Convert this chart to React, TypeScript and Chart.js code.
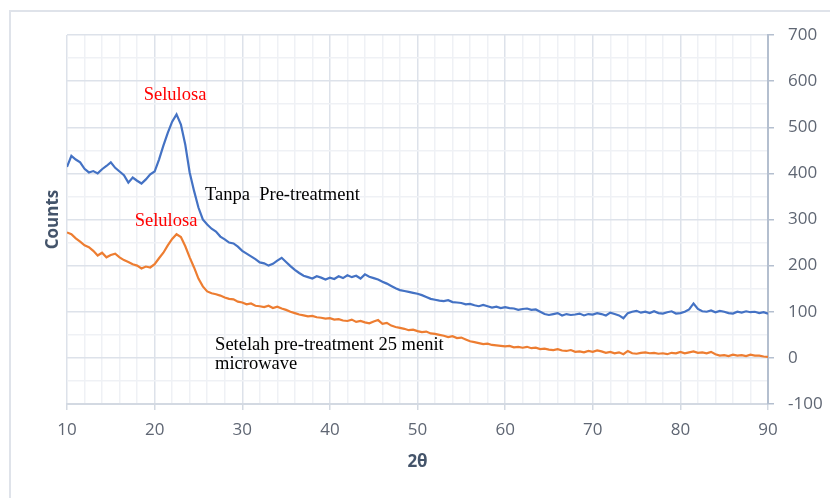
import { useEffect, useRef } from 'react';
import { Chart, registerables } from 'chart.js';

Chart.register(...registerables);

// 2θ positions (degrees)
const theta = [
  10, 10.5, 11, 11.5, 12, 12.5, 13, 13.5, 14, 14.5,
  15, 15.5, 16, 16.5, 17, 17.5, 18, 18.5, 19, 19.5,
  20, 20.5, 21, 21.5, 22, 22.5, 23, 23.5, 24, 24.5,
  25, 25.5, 26, 26.5, 27, 27.5, 28, 28.5, 29, 29.5,
  30, 30.5, 31, 31.5, 32, 32.5, 33, 33.5, 34, 34.5,
  35, 35.5, 36, 36.5, 37, 37.5, 38, 38.5, 39, 39.5,
  40, 40.5, 41, 41.5, 42, 42.5, 43, 43.5, 44, 44.5,
  45, 45.5, 46, 46.5, 47, 47.5, 48, 48.5, 49, 49.5,
  50, 50.5, 51, 51.5, 52, 52.5, 53, 53.5, 54, 54.5,
  55, 55.5, 56, 56.5, 57, 57.5, 58, 58.5, 59, 59.5,
  60, 60.5, 61, 61.5, 62, 62.5, 63, 63.5, 64, 64.5,
  65, 65.5, 66, 66.5, 67, 67.5, 68, 68.5, 69, 69.5,
  70, 70.5, 71, 71.5, 72, 72.5, 73, 73.5, 74, 74.5,
  75, 75.5, 76, 76.5, 77, 77.5, 78, 78.5, 79, 79.5,
  80, 80.5, 81, 81.5, 82, 82.5, 83, 83.5, 84, 84.5,
  85, 85.5, 86, 86.5, 87, 87.5, 88, 88.5, 89, 89.5,
  90,
];

// Counts: Tanpa Pre-treatment
const tanpa = [
  414, 438, 430, 424, 410, 402, 405, 400, 409, 416,
  424, 412, 404, 396, 380, 391, 384, 378, 387, 398,
  404, 430, 460, 488, 512, 528, 506, 462, 402, 362,
  326, 300, 289, 280, 274, 263, 257, 250, 248, 241,
  232, 226, 220, 214, 207, 205, 200, 204, 211, 217,
  208, 199, 191, 184, 178, 175, 172, 177, 174, 170,
  174, 171, 177, 173, 179, 175, 178, 172, 181, 176,
  173, 170, 165, 161, 156, 151, 147, 145, 143, 141,
  139, 136, 132, 128, 126, 124, 123, 125, 121, 120,
  119, 116, 117, 114, 112, 115, 112, 109, 111, 108,
  110, 108, 107, 104, 106, 107, 104, 105, 100, 95,
  93, 95, 97, 92, 95, 93, 94, 96, 92, 95,
  94, 97, 95, 92, 98, 95, 92, 86, 97, 100,
  102, 98, 100, 97, 101, 97, 96, 99, 101, 96,
  97, 100, 105, 118, 106, 101, 100, 103, 99, 102,
  100, 97, 96, 100, 98, 101, 99, 100, 97, 99,
  96,
];

// Counts: Setelah pre-treatment 25 menit microwave
const setelah = [
  272, 268, 259, 252, 244, 240, 232, 222, 228, 218,
  223, 226, 218, 212, 208, 203, 200, 194, 198, 196,
  203, 216, 228, 244, 258, 268, 262, 242, 218, 196,
  172, 155, 144, 140, 138, 135, 131, 128, 127, 122,
  120, 116, 118, 113, 112, 110, 113, 108, 111, 107,
  104, 100, 97, 94, 92, 90, 91, 88, 87, 85,
  86, 83, 84, 81, 80, 83, 78, 80, 77, 75,
  79, 82, 74, 76, 70, 67, 65, 63, 60, 61,
  58, 56, 57, 53, 52, 50, 48, 45, 47, 43,
  44, 40, 36, 34, 32, 30, 31, 28, 27, 26,
  25, 26, 23, 24, 22, 24, 21, 22, 19, 20,
  18, 17, 19, 16, 15, 17, 13, 14, 12, 15,
  13, 16, 14, 11, 13, 10, 12, 8, 15, 10,
  9, 11, 12, 10, 11, 9, 10, 8, 11, 10,
  13, 10, 12, 14, 11, 12, 10, 13, 8, 5,
  6, 4, 7, 5, 6, 4, 7, 5, 5, 3,
  2,
];

const xMin = 10;
const xMax = 90;
const yMin = -100;
const yMax = 700;

const notes = [
  { text: 'Selulosa', x: 22.33, y: 570, color: '#ff0000', align: 'center' as CanvasTextAlign },
  { text: 'Selulosa', x: 21.3, y: 297, color: '#ff0000', align: 'center' as CanvasTextAlign },
  { text: 'Tanpa  Pre-treatment', x: 25.75, y: 353, color: '#000000', align: 'left' as CanvasTextAlign },
  { text: 'Setelah pre-treatment 25 menit', x: 26.9, y: 28, color: '#000000', align: 'left' as CanvasTextAlign },
  { text: 'microwave', x: 26.9, y: -13, color: '#000000', align: 'left' as CanvasTextAlign },
];

const overlay = {
  id: 'overlay',
  beforeDraw(chart: any) {
    const ctx = chart.ctx;
    ctx.save();
    ctx.fillStyle = '#ffffff';
    ctx.fillRect(0, 0, chart.width, chart.height);
    ctx.strokeStyle = '#dfe3ea';
    ctx.lineWidth = 2;
    ctx.strokeRect(10, 11, chart.width + 20, chart.height + 20);
    ctx.restore();
  },
  afterDraw(chart: any) {
    const ctx = chart.ctx;
    const area = chart.chartArea;
    const xs = chart.scales.x;
    const ys = chart.scales.y;
    ctx.save();
    ctx.translate(area.left - 14, (area.top + area.bottom) / 2);
    ctx.rotate(-Math.PI / 2);
    ctx.textAlign = 'center';
    ctx.textBaseline = 'middle';
    ctx.font = 'bold 17px "Open Sans"';
    ctx.fillStyle = '#44546a';
    ctx.fillText('Counts', 0, 0);
    ctx.restore();

    ctx.save();
    ctx.font = '18.5px "Liberation Serif"';
    ctx.textBaseline = 'middle';
    for (const n of notes) {
      ctx.fillStyle = n.color;
      ctx.textAlign = n.align;
      ctx.fillText(n.text, xs.getPixelForValue(n.x), ys.getPixelForValue(n.y));
    }
    ctx.restore();
  },
};

export default function App() {
  const ref = useRef<HTMLCanvasElement>(null);
  useEffect(() => {
    const canvas = ref.current;
    if (!canvas) return;
    const chart = new Chart(canvas, {
      type: 'line',
      data: {
        datasets: [
          {
            label: 'Tanpa Pre-treatment',
            data: theta.map((t, i) => ({ x: t, y: tanpa[i] })),
            borderColor: '#4472c4',
            borderWidth: 2.2,
            pointRadius: 0,
            tension: 0,
          },
          {
            label: 'Setelah pre-treatment 25 menit microwave',
            data: theta.map((t, i) => ({ x: t, y: setelah[i] })),
            borderColor: '#ed7d31',
            borderWidth: 2.2,
            pointRadius: 0,
            tension: 0,
          },
        ],
      },
      options: {
        responsive: false,
        animation: false,
        devicePixelRatio: 1,
        layout: { padding: { left: 67, top: 35, right: 0, bottom: 0 } },
        plugins: { legend: { display: false }, tooltip: { enabled: false } },
        scales: {
          x: {
            type: 'linear',
            min: xMin,
            max: xMax,
            ticks: {
              stepSize: 2,
              autoSkip: false,
              maxRotation: 0,
              padding: 10,
              color: '#5f6673',
              font: { family: 'Open Sans', size: 17 },
              callback: (v: any) => (Number(v) % 10 === 0 ? String(v) : ''),
            },
            grid: {
              color: (c: any) => (c.tick && c.tick.value % 10 === 0 ? '#dde2ea' : '#eff1f5'),
              lineWidth: 1.5,
              tickLength: 6,
              tickColor: (c: any) => (c.tick && c.tick.value % 10 === 0 ? '#d3d9e2' : 'rgba(0,0,0,0)'),
            },
            border: { color: '#d3d9e2', width: 2 },
            title: {
              display: true,
              text: '2θ',
              color: '#44546a',
              font: { family: 'Open Sans', size: 17, weight: 'bold' },
              padding: { top: 0, bottom: 26 },
            },
            afterFit: (s: any) => {
              s.height = 94;
            },
          },
          y: {
            position: 'right',
            min: yMin,
            max: yMax,
            ticks: {
              stepSize: 50,
              autoSkip: false,
              padding: 14,
              color: '#5f6673',
              font: { family: 'Open Sans', size: 17 },
              callback: (v: any) => (Number(v) % 100 === 0 ? String(v) : ''),
            },
            grid: {
              color: (c: any) => (c.tick && c.tick.value % 100 === 0 ? '#dde2ea' : '#eff1f5'),
              lineWidth: 1.5,
              tickLength: 6,
              tickColor: (c: any) => (c.tick && c.tick.value % 100 === 0 ? '#b4bfcf' : 'rgba(0,0,0,0)'),
            },
            border: { color: '#b4bfcf', width: 2 },
            afterFit: (s: any) => {
              s.width = 62;
            },
          },
        },
      },
      plugins: [overlay],
    } as any);
    return () => chart.destroy();
  }, []);

  return (
    <div style={{ position: 'absolute', left: 0, top: 0, width: 830, height: 498 }}>
      <canvas ref={ref} width={830} height={498} />
    </div>
  );
}
